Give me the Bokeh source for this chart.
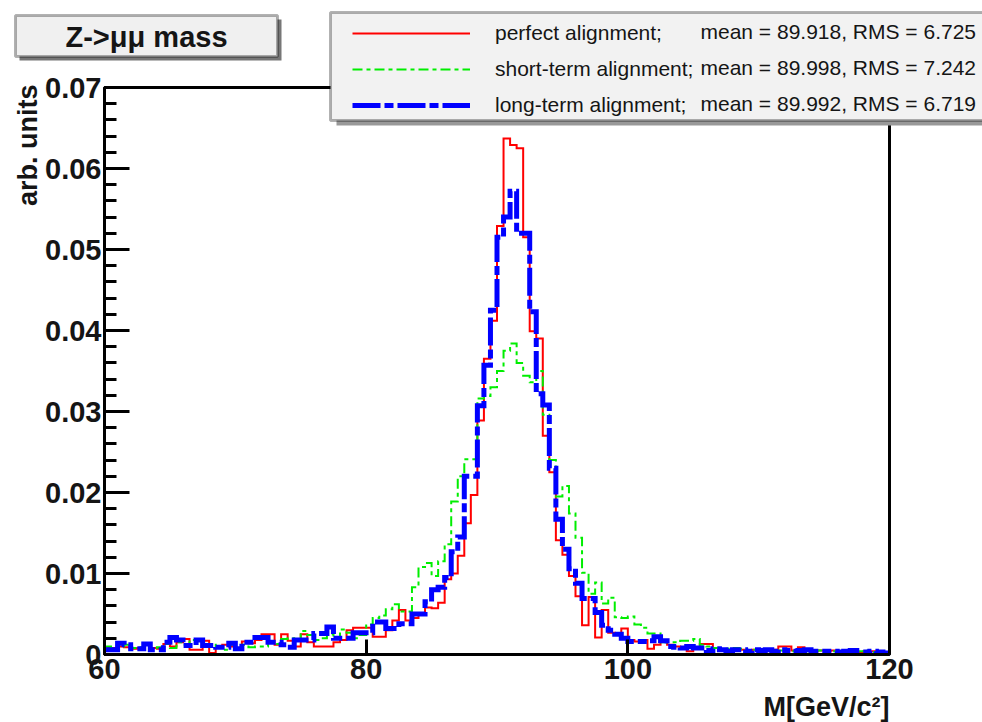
from bokeh.plotting import figure
from bokeh.models import (Range1d, FixedTicker, CustomJSTickFormatter, Label,
                          BoxAnnotation, Legend, LegendItem, LinearAxis)
from bokeh.embed import file_html
from bokeh.resources import INLINE

# ---------------- data (0.5 GeV bins, 60-120 GeV) ----------------
bin_edges = [60.0 + 0.5 * i for i in range(121)]

perfect = [
    0.0008, 0.0008, 0.0010, 0.0009, 0.0007, 0.0008, 0.0014, 0.0008, 0.0007, 0.0013,
    0.0010, 0.0015, 0.0019, 0.0006, 0.0006, 0.0017, 0.0002, 0.0008, 0.0012, 0.0010,
    0.0008, 0.0016, 0.0014, 0.0018, 0.0025, 0.0025, 0.0012, 0.0025, 0.0017, 0.0010,
    0.0025, 0.0015, 0.0010, 0.0010, 0.0010, 0.0015, 0.0018, 0.0030, 0.0033, 0.0033,
    0.0033, 0.0022, 0.0022, 0.0030, 0.0042, 0.0055, 0.0042, 0.0045, 0.0050, 0.0058,
    0.0057, 0.0064, 0.0093, 0.0100, 0.0122, 0.0162, 0.0197, 0.0289, 0.0365, 0.0412,
    0.0529, 0.0637, 0.0629, 0.0625, 0.0515, 0.0399, 0.0390, 0.0270, 0.0225, 0.0141,
    0.0123, 0.0097, 0.0072, 0.0036, 0.0071, 0.0021, 0.0055, 0.0027, 0.0025, 0.0032,
    0.0018, 0.0016, 0.0018, 0.0007, 0.0012, 0.0016, 0.0012, 0.0010, 0.0008, 0.0004,
    0.0008, 0.0013, 0.0013, 0.0008, 0.0006, 0.0005, 0.0007, 0.0006, 0.0005, 0.0006,
    0.0006, 0.0005, 0.0006, 0.0010, 0.0010, 0.0005, 0.0009, 0.0005, 0.0004, 0.0005,
    0.0004, 0.0005, 0.0003, 0.0004, 0.0004, 0.0003, 0.0004, 0.0004, 0.0004, 0.0003,
]

short_term = [
    0.0010, 0.0008, 0.0010, 0.0012, 0.0008, 0.0009, 0.0012, 0.0008, 0.0009, 0.0013,
    0.0008, 0.0015, 0.0012, 0.0018, 0.0018, 0.0010, 0.0012, 0.0008, 0.0006, 0.0012,
    0.0012, 0.0012, 0.0009, 0.0010, 0.0010, 0.0015, 0.0013, 0.0019, 0.0020, 0.0017,
    0.0029, 0.0024, 0.0018, 0.0020, 0.0025, 0.0020, 0.0031, 0.0027, 0.0020, 0.0024,
    0.0037, 0.0045, 0.0048, 0.0056, 0.0062, 0.0053, 0.0053, 0.0083, 0.0108, 0.0113,
    0.0097, 0.0115, 0.0136, 0.0189, 0.0220, 0.0241, 0.0241, 0.0316, 0.0319, 0.0330,
    0.0350, 0.0375, 0.0384, 0.0360, 0.0344, 0.0336, 0.0350, 0.0296, 0.0240, 0.0195,
    0.0208, 0.0174, 0.0144, 0.0101, 0.0075, 0.0089, 0.0063, 0.0070, 0.0046, 0.0045,
    0.0047, 0.0037, 0.0033, 0.0026, 0.0026, 0.0015, 0.0015, 0.0015, 0.0017, 0.0017,
    0.0019, 0.0012, 0.0010, 0.0008, 0.0007, 0.0007, 0.0008, 0.0007, 0.0006, 0.0006,
    0.0005, 0.0006, 0.0005, 0.0005, 0.0006, 0.0004, 0.0005, 0.0004, 0.0004, 0.0005,
    0.0004, 0.0004, 0.0003, 0.0004, 0.0004, 0.0004, 0.0005, 0.0003, 0.0003, 0.0003,
]

long_term = [
    0.0006, 0.0006, 0.0014, 0.0012, 0.0007, 0.0007, 0.0013, 0.0006, 0.0006, 0.0015,
    0.0021, 0.0018, 0.0011, 0.0011, 0.0018, 0.0011, 0.0011, 0.0009, 0.0009, 0.0014,
    0.0007, 0.0015, 0.0015, 0.0021, 0.0021, 0.0015, 0.0015, 0.0012, 0.0009, 0.0018,
    0.0018, 0.0018, 0.0026, 0.0026, 0.0034, 0.0020, 0.0020, 0.0020, 0.0027, 0.0027,
    0.0027, 0.0040, 0.0040, 0.0032, 0.0032, 0.0038, 0.0038, 0.0050, 0.0050, 0.0065,
    0.0080, 0.0083, 0.0095, 0.0127, 0.0145, 0.0220, 0.0220, 0.0307, 0.0357, 0.0425,
    0.0515, 0.0540, 0.0572, 0.0520, 0.0520, 0.0423, 0.0322, 0.0308, 0.0230, 0.0167,
    0.0130, 0.0106, 0.0088, 0.0069, 0.0069, 0.0052, 0.0036, 0.0030, 0.0025, 0.0020,
    0.0016, 0.0016, 0.0016, 0.0017, 0.0022, 0.0017, 0.0010, 0.0009, 0.0008, 0.0010,
    0.0008, 0.0008, 0.0005, 0.0007, 0.0006, 0.0004, 0.0006, 0.0006, 0.0004, 0.0006,
    0.0005, 0.0006, 0.0004, 0.0006, 0.0005, 0.0004, 0.0005, 0.0006, 0.0004, 0.0004,
    0.0004, 0.0004, 0.0003, 0.0004, 0.0005, 0.0003, 0.0003, 0.0004, 0.0003, 0.0002,
]

series_names = ["perfect alignment;", "short-term alignment;", "long-term alignment;"]
series_stats = ["mean = 89.918, RMS = 6.725",
                "mean = 89.998, RMS = 7.242",
                "mean = 89.992, RMS = 6.719"]

x_ticks = [60, 80, 100, 120]
y_ticks = [0.0, 0.01, 0.02, 0.03, 0.04, 0.05, 0.06, 0.07]
y_tick_labels = ["0", "0.01", "0.02", "0.03", "0.04", "0.05", "0.06", "0.07"]
y_minor = [round(0.002 * i, 4) for i in range(36)]

title_text = "Z->\u03bc\u03bc mass"
x_title = "M[GeV/c\u00b2]"
y_title = "arb. units"

# ---------------- layout ----------------
W, H = 982, 722
FL, FR, FT, FB = 104, 889, 87, 654      # data-frame edges in canvas pixels
x_lo, x_hi = x_ticks[0], x_ticks[-1]
y_lo, y_hi = y_ticks[0], y_ticks[-1]
# the Bokeh frame covers the whole canvas; ranges chosen so the data box sits at FL..FR, FT..FB
xpp = (x_hi - x_lo) / (FR - FL)
ypp = (y_hi - y_lo) / (FB - FT)
x_range = Range1d(x_lo - FL * xpp, x_hi + (W - FR) * xpp)
y_range = Range1d(y_lo - (H - FB) * ypp, y_hi + FT * ypp)

FONT = "Liberation Sans"
TXT = "#151515"

p = figure(width=W, height=H, x_range=x_range, y_range=y_range,
           output_backend="svg", toolbar_location=None,
           x_axis_location=None, y_axis_location=None, min_border=0)
p.background_fill_color = "white"
p.border_fill_color = "white"
p.outline_line_color = None
p.grid.visible = False


def sx(cx):
    return cx


def sy(cy):
    return H - cy


# frame box of the histogram pad
p.quad(left=[x_lo], right=[x_hi], bottom=[y_lo], top=[y_hi],
       fill_alpha=0, line_color="black", line_width=3)

# ---------------- histograms ----------------
r_red = p.step(x=bin_edges, y=perfect + [perfect[-1]], mode="after",
               line_color="#ff0000", line_width=2, line_join="miter")
r_green = p.step(x=bin_edges, y=short_term + [short_term[-1]], mode="after",
                 line_color="#00ee00", line_width=2, line_dash="10 4 4 4", line_join="miter")
r_blue = p.step(x=bin_edges, y=long_term + [long_term[-1]], mode="after",
                line_color="#0000ff", line_width=5, line_dash="28 4 9 4", line_join="miter")

# ---------------- axes (fixed at the pad edges) ----------------
xaxis = LinearAxis(fixed_location=y_lo, bounds=(x_lo, x_hi),
                   ticker=FixedTicker(ticks=x_ticks, minor_ticks=[]))
yaxis = LinearAxis(fixed_location=x_lo, bounds=(y_lo, y_hi),
                   ticker=FixedTicker(ticks=y_ticks, minor_ticks=y_minor),
                   formatter=CustomJSTickFormatter(
                       args=dict(yt=y_ticks, yl=y_tick_labels),
                       code="const i = yt.findIndex(t => Math.abs(t - tick) < 1e-9); return i >= 0 ? yl[i] : '';"))
for ax in (xaxis, yaxis):
    ax.axis_line_color = "black"
    ax.axis_line_width = 3
    ax.major_tick_line_color = "black"
    ax.major_tick_line_width = 3
    ax.minor_tick_line_color = "black"
    ax.minor_tick_line_width = 3
    ax.major_tick_out = 0
    ax.minor_tick_out = 0
    ax.major_label_text_font = FONT
    ax.major_label_text_font_style = "bold"
    ax.major_label_text_font_size = "29px"
    ax.major_label_text_color = TXT
yaxis.major_tick_in = 25
yaxis.minor_tick_in = 12
yaxis.major_label_standoff = 3
xaxis.major_tick_in = 15
xaxis.minor_tick_in = 0
xaxis.major_label_standoff = 4
p.add_layout(xaxis, "below")
p.add_layout(yaxis, "left")

# ---------------- title box ----------------
p.add_layout(BoxAnnotation(left=sx(19), right=sx(281), top=sy(19), bottom=sy(60),
                           left_units="screen", right_units="screen",
                           top_units="screen", bottom_units="screen",
                           fill_color="#777777", fill_alpha=1, line_alpha=0))
p.add_layout(BoxAnnotation(left=sx(15), right=sx(277), top=sy(15), bottom=sy(56),
                           left_units="screen", right_units="screen",
                           top_units="screen", bottom_units="screen",
                           fill_color="#f0f0f0", fill_alpha=1,
                           line_color="black", line_width=3))
p.add_layout(Label(x=sx(146), y=sy(36), x_units="screen", y_units="screen",
                   text=title_text, text_align="center", text_baseline="middle",
                   text_font=FONT, text_font_style="bold", text_font_size="29px",
                   text_color=TXT))

# ---------------- legend box ----------------
p.add_layout(BoxAnnotation(left=sx(336), right=sx(1010), top=sy(16), bottom=sy(125),
                           left_units="screen", right_units="screen",
                           top_units="screen", bottom_units="screen",
                           fill_color="#999999", fill_alpha=1, line_alpha=0))
p.add_layout(BoxAnnotation(left=sx(330), right=sx(1005), top=sy(12), bottom=sy(120),
                           left_units="screen", right_units="screen",
                           top_units="screen", bottom_units="screen",
                           fill_color="#f2f2f2", fill_alpha=1,
                           line_color="black", line_width=3))

legend = Legend(items=[LegendItem(label=series_names[0], renderers=[r_red]),
                       LegendItem(label=series_names[1], renderers=[r_green]),
                       LegendItem(label=series_names[2], renderers=[r_blue])],
                location=(sx(342), sy(127)), orientation="vertical",
                background_fill_alpha=0, border_line_alpha=0,
                padding=10, spacing=12, margin=0,
                glyph_width=118, glyph_height=20, label_height=20,
                label_standoff=25, label_text_font=FONT,
                label_text_font_size="21px", label_text_color=TXT)
p.add_layout(legend)

for i, txt in enumerate(series_stats):
    p.add_layout(Label(x=sx(700), y=sy(31 + 36 * i), x_units="screen", y_units="screen",
                       text=txt, text_align="left", text_baseline="middle",
                       text_font=FONT, text_font_size="21px", text_color=TXT))

# ---------------- axis titles ----------------
p.add_layout(Label(x=sx(889), y=sy(706), x_units="screen", y_units="screen",
                   text=x_title, text_align="right", text_baseline="middle",
                   text_font=FONT, text_font_style="bold", text_font_size="27px",
                   text_color=TXT))
p.add_layout(Label(x=sx(27), y=sy(84), x_units="screen", y_units="screen",
                   text=y_title, text_align="right", text_baseline="middle", angle=1.5708,
                   text_font=FONT, text_font_style="bold", text_font_size="27px",
                   text_color=TXT))

open("out.html", "w").write(file_html(p, INLINE))
